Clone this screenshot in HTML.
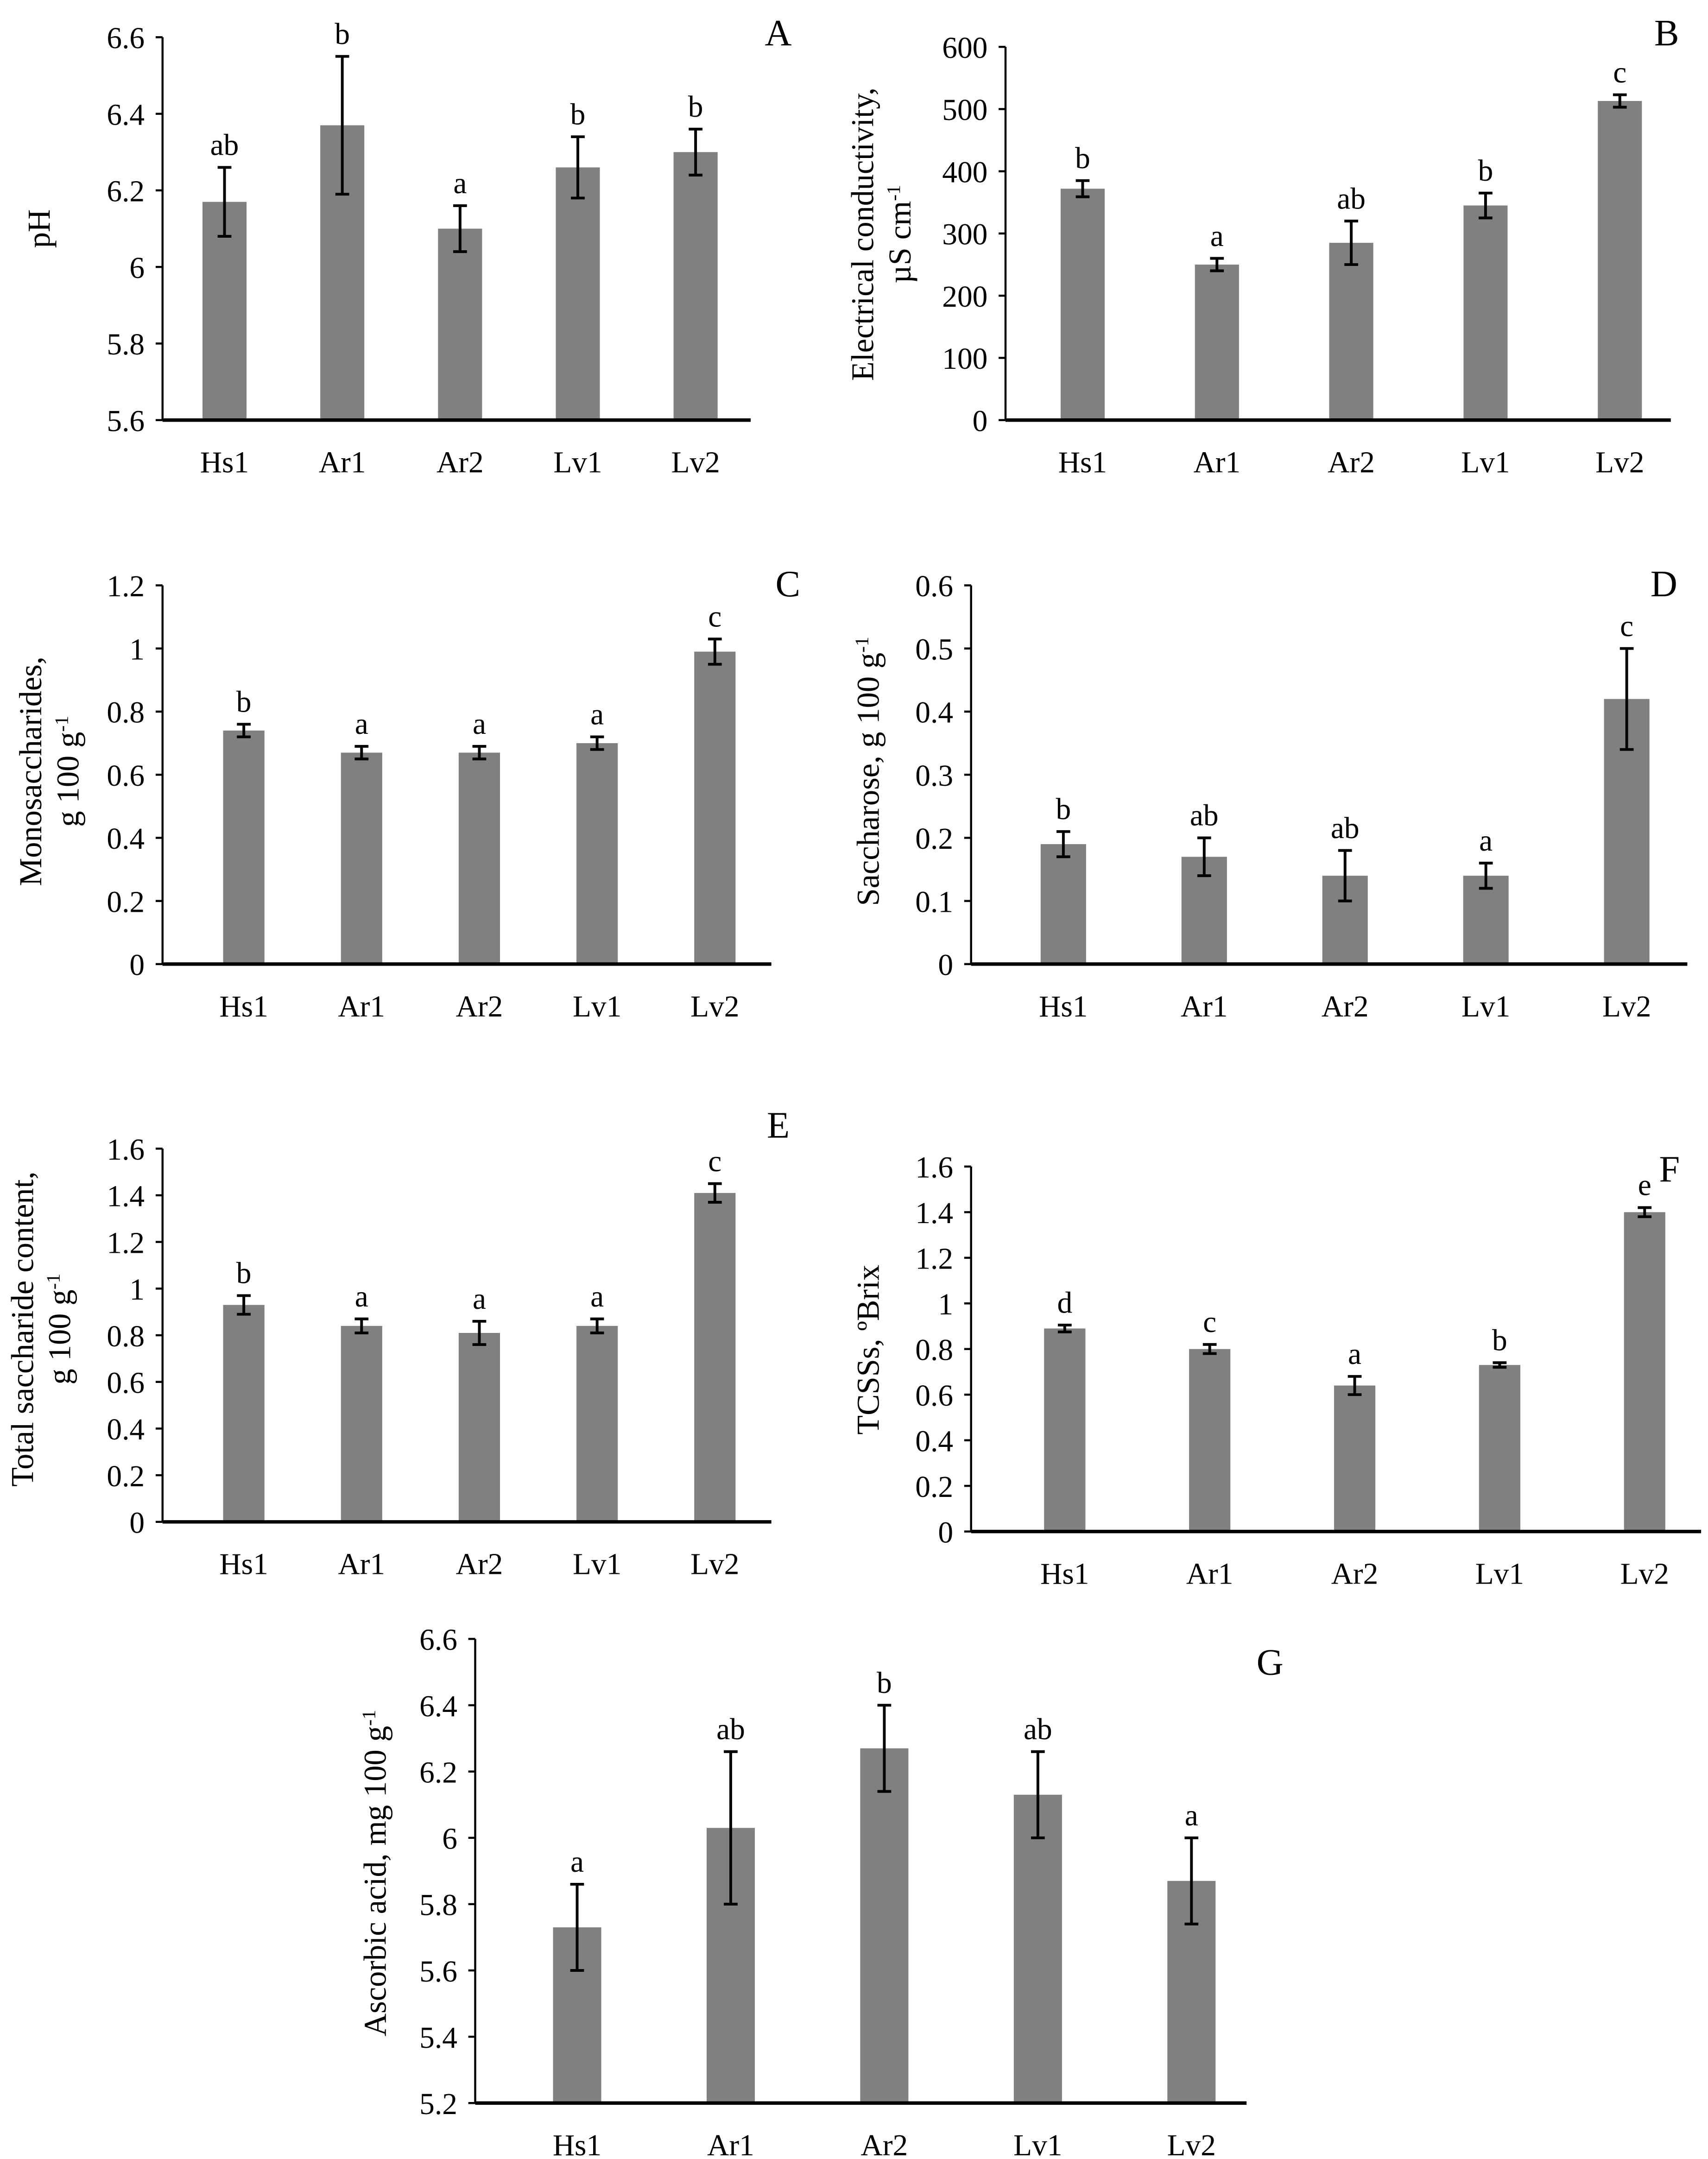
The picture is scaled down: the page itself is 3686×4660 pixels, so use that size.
<!DOCTYPE html>
<html><head><meta charset="utf-8">
<style>
html,body{margin:0;padding:0;background:#fff;}
svg{display:block;}
text{font-family:"Liberation Serif",serif;fill:#000;}
</style></head>
<body>
<svg id="fig" width="3686" height="4660" viewBox="0 0 1240 1567.6" xmlns="http://www.w3.org/2000/svg"></svg>
<script>
const categories = ["Hs1","Ar1","Ar2","Lv1","Lv2"];
// Panel A - pH
const aValues = [6.17, 6.37, 6.10, 6.26, 6.30];
const aErrors = [0.09, 0.18, 0.06, 0.08, 0.06];
const aLetters = ["ab","b","a","b","b"];
const aTicks = ["5.6","5.8","6","6.2","6.4","6.6"];
// Panel B - EC
const bValues = [372, 250, 285, 345, 513];
const bErrors = [13, 10, 35, 20, 10];
const bLetters = ["b","a","ab","b","c"];
const bTicks = ["0","100","200","300","400","500","600"];
// Panel C - monosaccharides
const cValues = [0.74, 0.67, 0.67, 0.70, 0.99];
const cErrors = [0.02, 0.02, 0.02, 0.02, 0.04];
const cLetters = ["b","a","a","a","c"];
const cTicks = ["0","0.2","0.4","0.6","0.8","1","1.2"];
// Panel D - saccharose
const dValues = [0.19, 0.17, 0.14, 0.14, 0.42];
const dErrors = [0.02, 0.03, 0.04, 0.02, 0.08];
const dLetters = ["b","ab","ab","a","c"];
const dTicks = ["0","0.1","0.2","0.3","0.4","0.5","0.6"];
// Panel E - total saccharide
const eValues = [0.93, 0.84, 0.81, 0.84, 1.41];
const eErrors = [0.04, 0.03, 0.05, 0.03, 0.04];
const eLetters = ["b","a","a","a","c"];
const eTicks = ["0","0.2","0.4","0.6","0.8","1","1.2","1.4","1.6"];
// Panel F - TCSSs
const fValues = [0.89, 0.80, 0.64, 0.73, 1.40];
const fErrors = [0.015, 0.02, 0.04, 0.01, 0.02];
const fLetters = ["d","c","a","b","e"];
const fTicks = ["0","0.2","0.4","0.6","0.8","1","1.2","1.4","1.6"];
// Panel G - ascorbic acid
const gValues = [5.73, 6.03, 6.27, 6.13, 5.87];
const gErrors = [0.13, 0.23, 0.13, 0.13, 0.13];
const gLetters = ["a","ab","b","ab","a"];
const gTicks = ["5.2","5.4","5.6","5.8","6","6.2","6.4","6.6"];

const NS = "http://www.w3.org/2000/svg";
const svg = document.getElementById("fig");
function mk(tag, attrs, parent) {
  const e = document.createElementNS(NS, tag);
  for (const k in attrs) e.setAttribute(k, attrs[k]);
  parent.appendChild(e);
  return e;
}
function panel(cfg) {
  const g = mk("g", {}, svg);
  
  
  const ticks = cfg.ticks.map(Number);
  const min = ticks[0], max = ticks[ticks.length - 1];
  const y = v => cfg.y0 - (v - min) / (max - min) * (cfg.y0 - cfg.y1);
  const xc = i => cfg.xs[0] + i * (cfg.xs[1] - cfg.xs[0]) / (categories.length - 1);
  cfg.values.forEach((v, i) => {
    const r = mk("rect", {x: xc(i) - cfg.bw / 2, y: y(v), width: cfg.bw, height: cfg.y0 - y(v), fill: "#808080"}, g);
    
    
    const top = y(v + cfg.errors[i]), bot = y(v - cfg.errors[i]);
    const eb = mk("path", {d: `M${xc(i)},${top}V${bot}M${xc(i)-5},${top}H${xc(i)+5}M${xc(i)-5},${bot}H${xc(i)+5}`, stroke: "#000", "stroke-width": 2, fill: "none"}, g);
    
    
    const lt = mk("text", {x: xc(i), y: top - 9, "font-size": 22, "text-anchor": "middle"}, g);
    lt.textContent = cfg.letters[i];
    
    
    const xl = mk("text", {x: xc(i), y: cfg.y0 + 38, "font-size": 22, "text-anchor": "middle"}, g);
    xl.textContent = categories[i];
    
    
  });
  const ya = mk("line", {x1: cfg.ax, y1: cfg.y1, x2: cfg.ax, y2: cfg.y0, stroke: "#000", "stroke-width": 1.5}, g);
  
  
  const xa = mk("line", {x1: cfg.ax, y1: cfg.y0, x2: cfg.xend, y2: cfg.y0, stroke: "#000", "stroke-width": 2.5}, g);
  
  
  cfg.ticks.forEach((t, i) => {
    const yy = y(ticks[i]);
    mk("line", {x1: cfg.ax - 5, y1: yy, x2: cfg.ax, y2: yy, stroke: "#000", "stroke-width": 1.5}, g);
    const tl = mk("text", {x: cfg.ax - 13, y: yy + 8, "font-size": 22, "text-anchor": "end"}, g);
    tl.textContent = t;
    
    
  });
  const pl = mk("text", {x: cfg.lx, y: cfg.ly, "font-size": 27, "text-anchor": "middle"}, g);
  pl.textContent = cfg.id;
  
  
  cfg.titles.forEach(tt => {
    const t = mk("text", {x: 0, y: 0, "font-size": 23, "text-anchor": "middle", transform: `translate(${tt.x},${cfg.ty}) rotate(-90)`}, g);
    t.innerHTML = tt.html;
    
    
  });
}
const sup = '<tspan baseline-shift="super" font-size="14">-1</tspan>';
panel({id:"A", values:aValues, errors:aErrors, letters:aLetters, ticks:aTicks, ax:118, y0:305, y1:27, xs:[163,505], bw:32, xend:545, lx:565, ly:33, ty:166, titles:[{x:36, html:"pH"}]});
panel({id:"B", values:bValues, errors:bErrors, letters:bLetters, ticks:bTicks, ax:730, y0:305, y1:34, xs:[786,1176], bw:32, xend:1213, lx:1210, ly:33, ty:170, titles:[{x:634, html:"Electrical conductivity,"},{x:661, html:"µS cm"+sup}]});
panel({id:"C", values:cValues, errors:cErrors, letters:cLetters, ticks:cTicks, ax:118, y0:700, y1:425, xs:[177,519], bw:30, xend:560, lx:572, ly:433, ty:560, titles:[{x:30, html:"Monosaccharides,"},{x:57, html:"g 100 g"+sup}]});
panel({id:"D", values:dValues, errors:dErrors, letters:dLetters, ticks:dTicks, ax:705, y0:700, y1:425, xs:[772,1181], bw:33, xend:1225, lx:1208, ly:433, ty:560, titles:[{x:638, html:"Saccharose, g 100 g"+sup}]});
panel({id:"E", values:eValues, errors:eErrors, letters:eLetters, ticks:eTicks, ax:118, y0:1105, y1:834, xs:[177,519], bw:30, xend:560, lx:565, ly:826, ty:965, titles:[{x:24, html:"Total saccharide content,"},{x:51, html:"g 100 g"+sup}]});
panel({id:"F", values:fValues, errors:fErrors, letters:fLetters, ticks:fTicks, ax:705, y0:1112, y1:847, xs:[773,1194], bw:30, xend:1235, lx:1212, ly:858, ty:980, titles:[{x:638, html:"TCSSs, ºBrix"}]});
panel({id:"G", values:gValues, errors:gErrors, letters:gLetters, ticks:gTicks, ax:345, y0:1527, y1:1190, xs:[419,865], bw:35, xend:905, lx:922, ly:1216, ty:1360, titles:[{x:280, html:"Ascorbic acid, mg 100 g"+sup}]});
</script>
</body></html>
